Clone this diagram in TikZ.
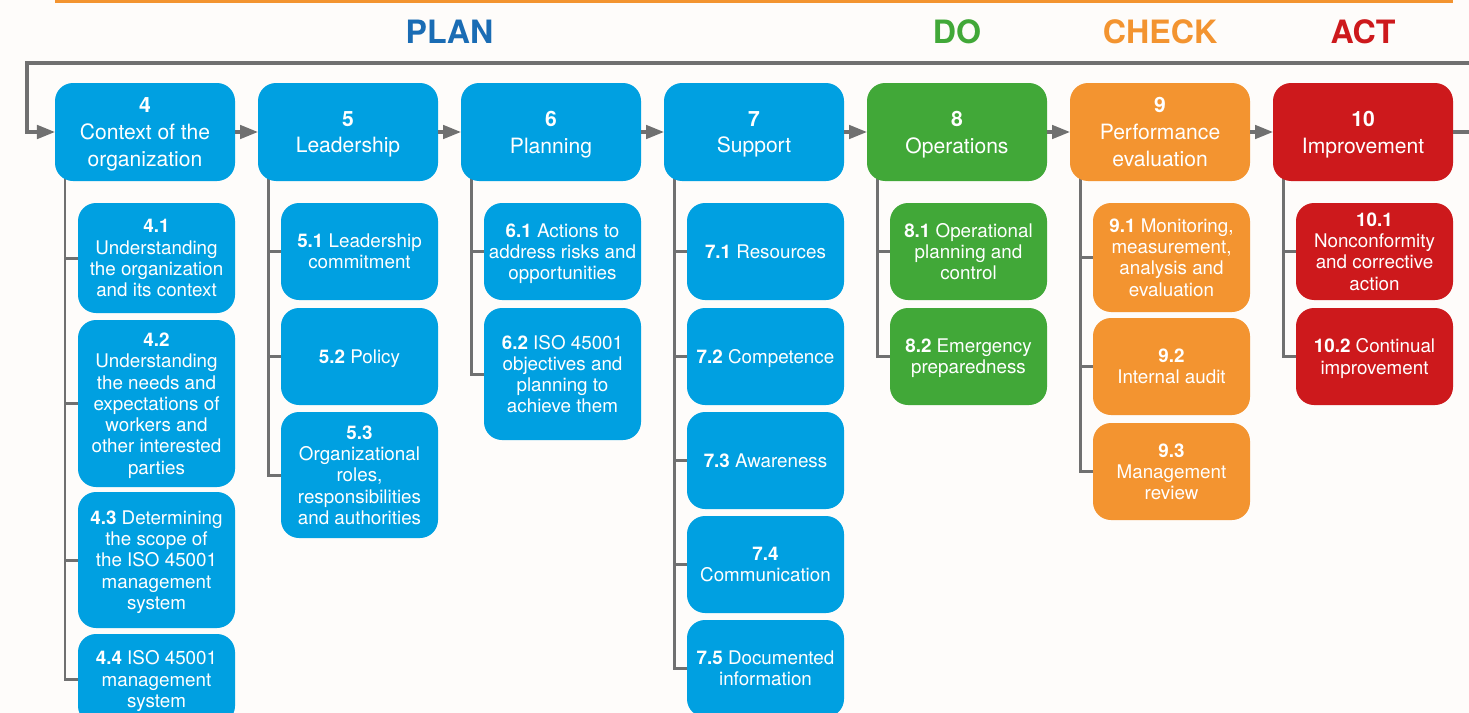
\documentclass[tikz,border=0pt]{standalone}
\usepackage{fontspec}
\setmainfont{TeX Gyre Heros}
\usepackage{tikz}
\usetikzlibrary{positioning}
\usetikzlibrary{arrows.meta}
\usetikzlibrary{calc}
\definecolor{planblue}{RGB}{0,160,225}
\definecolor{plantext}{RGB}{26,108,180}
\definecolor{dogreen}{RGB}{65,168,56}
\definecolor{checkorange}{RGB}{243,148,48}
\definecolor{actred}{RGB}{205,25,28}
\definecolor{linegrey}{RGB}{112,112,112}
\definecolor{paper}{RGB}{254,252,250}
\pgfdeclarelayer{background}
\pgfsetlayers{background,main}
\tikzset{main box/.style={fill=#1,rounded corners=0.36cm,minimum width=3.6cm,minimum height=1.96cm,inner sep=2pt,outer sep=0pt,align=center,text=white,font=\fontsize{12}{15.3}\selectfont,text depth=-2pt},
	sub box/.style={fill=#1,rounded corners=0.36cm,minimum width=3.14cm,minimum height=1.94cm,inner sep=2pt,outer sep=0pt,align=center,text=white,font=\fontsize{10.7}{12.1}\selectfont,text depth=-2pt},
	head label/.style={font=\fontsize{18.3}{20}\selectfont\bfseries},
	flow/.style={draw=linegrey,line width=0.065cm,->},
	branch/.style={draw=linegrey,line width=0.06cm,to path={|- (\tikztotarget)}},}

\begin{document}
\begin{tikzpicture}[>={Triangle[length=0.36cm,width=0.27cm]}]
	\useasboundingbox (0,0) rectangle (29.38,-14.26);
	% main clauses
	\node[main box=planblue] (c4) at (2.9,-2.64) {\textbf{4}\\Context of the\\organization};
	\node[main box=planblue] (c5) [right=0.46cm of c4] {\textbf{5}\\Leadership};
	\node[main box=planblue] (c6) [right=0.46cm of c5] {\textbf{6}\\Planning};
	\node[main box=planblue] (c7) [right=0.46cm of c6] {\textbf{7}\\Support};
	\node[main box=dogreen] (c8) [right=0.46cm of c7] {\textbf{8}\\Operations};
	\node[main box=checkorange] (c9) [right=0.46cm of c8] {\textbf{9}\\Performance\\evaluation};
	\node[main box=actred] (c10) [right=0.46cm of c9] {\textbf{10}\\Improvement};

	% headings
	\coordinate (hy) at (0,-0.64);
	\coordinate (planmid) at ($(c4)!0.5!(c7)$);
	\node[head label, text=plantext] (plan) at (planmid |- hy) {PLAN};
	\node[head label, text=dogreen] (do) at (c8 |- hy) {DO};
	\node[head label, text=checkorange] (check) at (c9 |- hy) {CHECK};
	\node[head label, text=actred] (act) at (c10 |- hy) {ACT};
	\draw[checkorange, line width=0.06cm] (1.1,-0.03) -- (29.06,-0.03);

	% sub clauses
	\node[sub box=planblue, minimum height=2.2cm] (s41) [below=0.44cm of c4.south east, anchor=north east] {\textbf{4.1}\\Understanding\\the organization\\and its context};
	\node[sub box=planblue, minimum height=3.34cm] (s42) [below=0.14cm of s41] {\textbf{4.2}\\Understanding\\the needs and\\expectations of\\workers and\\other interested\\parties};
	\node[sub box=planblue, minimum height=2.72cm] (s43) [below=0.1cm of s42] {\textbf{4.3} Determining\\the scope of\\the ISO 45001\\management\\system};
	\node[sub box=planblue, minimum height=1.8cm] (s44) [below=0.12cm of s43] {\textbf{4.4} ISO 45001\\management\\system};

	\node[sub box=planblue] (s51) [below=0.44cm of c5.south east, anchor=north east] {\textbf{5.1} Leadership\\commitment};
	\node[sub box=planblue] (s52) [below=0.16cm of s51] {\textbf{5.2} Policy};
	\node[sub box=planblue, minimum height=2.52cm] (s53) [below=0.14cm of s52] {\textbf{5.3}\\Organizational\\roles,\\responsibilities\\and authorities};

	\node[sub box=planblue] (s61) [below=0.44cm of c6.south east, anchor=north east] {\textbf{6.1} Actions to\\address risks and\\opportunities};
	\node[sub box=planblue, minimum height=2.64cm] (s62) [below=0.16cm of s61] {\textbf{6.2} ISO 45001\\objectives and\\planning to\\achieve them};

	\node[sub box=planblue] (s71) [below=0.44cm of c7.south east, anchor=north east] {\textbf{7.1} Resources};
	\node[sub box=planblue] (s72) [below=0.16cm of s71] {\textbf{7.2} Competence};
	\node[sub box=planblue] (s73) [below=0.14cm of s72] {\textbf{7.3} Awareness};
	\node[sub box=planblue] (s74) [below=0.14cm of s73] {\textbf{7.4}\\Communication};
	\node[sub box=planblue] (s75) [below=0.14cm of s74] {\textbf{7.5} Documented\\information};

	\node[sub box=dogreen] (s81) [below=0.44cm of c8.south east, anchor=north east] {\textbf{8.1} Operational\\planning and\\control};
	\node[sub box=dogreen] (s82) [below=0.16cm of s81] {\textbf{8.2} Emergency\\preparedness};

	\node[sub box=checkorange, minimum height=2.18cm] (s91) [below=0.44cm of c9.south east, anchor=north east] {\textbf{9.1} Monitoring,\\measurement,\\analysis and\\evaluation};
	\node[sub box=checkorange] (s92) [below=0.12cm of s91] {\textbf{9.2}\\Internal audit};
	\node[sub box=checkorange] (s93) [below=0.16cm of s92] {\textbf{9.3}\\Management\\review};

	\node[sub box=actred] (s101) [below=0.44cm of c10.south east, anchor=north east] {\textbf{10.1}\\Nonconformity\\and corrective\\action};
	\node[sub box=actred] (s102) [below=0.16cm of s101] {\textbf{10.2} Continual\\improvement};

	% trunks under each clause
	\coordinate (t4) at ([xshift=0.2cm,yshift=0.3cm]c4.south west);
	\coordinate (t5) at ([xshift=0.2cm,yshift=0.3cm]c5.south west);
	\coordinate (t6) at ([xshift=0.2cm,yshift=0.3cm]c6.south west);
	\coordinate (t7) at ([xshift=0.2cm,yshift=0.3cm]c7.south west);
	\coordinate (t8) at ([xshift=0.2cm,yshift=0.3cm]c8.south west);
	\coordinate (t9) at ([xshift=0.2cm,yshift=0.3cm]c9.south west);
	\coordinate (t10) at ([xshift=0.2cm,yshift=0.3cm]c10.south west);

	\begin{pgfonlayer}{background}
		\fill[paper] (0,0) rectangle (29.38,-14.26);
		\path[branch]
		(t4) edge (s41) edge (s42) edge (s43) edge (s44)
		(t5) edge (s51) edge (s52) edge (s53)
		(t6) edge (s61) edge (s62)
		(t7) edge (s71) edge (s72) edge (s73) edge (s74) edge (s75)
		(t8) edge (s81) edge (s82)
		(t9) edge (s91) edge (s92) edge (s93)
		(t10) edge (s101) edge (s102);
	\end{pgfonlayer}

	% flow between clauses and feedback loop
	\coordinate (fbR) at (29.6,-1.26);
	\coordinate (fbL) at (0.54,-1.26);
	\draw[flow] (c4) -- (c5);
	\draw[flow] (c5) -- (c6);
	\draw[flow] (c6) -- (c7);
	\draw[flow] (c7) -- (c8);
	\draw[flow] (c8) -- (c9);
	\draw[flow] (c9) -- (c10);
	\draw[flow] (c10.east) -| (fbR) -- (fbL) |- (c4.west);
\end{tikzpicture}
\end{document}
